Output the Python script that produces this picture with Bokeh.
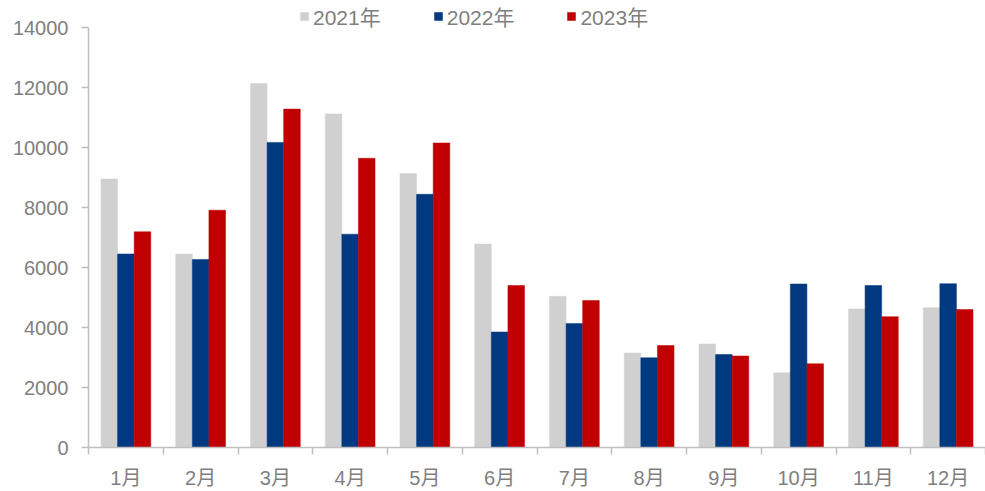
from bokeh.plotting import figure
from bokeh.models import Range1d, FixedTicker, Legend, LegendItem, ColumnDataSource
from bokeh.embed import file_html
from bokeh.resources import INLINE

months = ["1月", "2月", "3月", "4月", "5月", "6月", "7月", "8月", "9月", "10月", "11月", "12月"]
y2021 = [8950, 6450, 12130, 11120, 9130, 6780, 5040, 3150, 3450, 2490, 4620, 4660]
y2022 = [6450, 6270, 10170, 7110, 8440, 3850, 4130, 2990, 3100, 5450, 5400, 5460]
y2023 = [7190, 7910, 11280, 9640, 10150, 5400, 4900, 3400, 3050, 2790, 4360, 4600]
series_names = ["2021年", "2022年", "2023年"]
colors = ["#d0d0d0", "#00397f", "#c00000"]
y_ticks = [0, 2000, 4000, 6000, 8000, 10000, 12000, 14000]

FONT = "Liberation Sans, Noto Sans CJK SC, sans-serif"
TXT = "#7f7f7f"
AX = "#bfbfbf"

# frame runs from the top of the page; the axis itself stops at 14000
p = figure(width=985, height=491, output_backend="svg", toolbar_location=None,
           x_range=Range1d(0, len(months)), y_range=Range1d(0, 14900),
           min_border_left=88, min_border_right=0, min_border_top=0, min_border_bottom=44)
p.outline_line_color = None
p.xgrid.visible = False
p.ygrid.visible = False

bw = 0.222
offsets = [-bw, 0.0, bw]
renderers = []
for vals, off, c in zip([y2021, y2022, y2023], offsets, colors):
    src = ColumnDataSource(dict(x=[i + 0.5 + off for i in range(len(months))], top=vals))
    r = p.vbar(x="x", top="top", width=bw, source=src, fill_color=c, line_color=c, line_width=0.5)
    renderers.append(r)

# x axis: labels at category centres, ticks at boundaries
xa = p.xaxis[0]
xa.ticker = FixedTicker(ticks=[i + 0.5 for i in range(len(months))],
                        minor_ticks=list(range(len(months) + 1)))
xa.major_label_overrides = {i + 0.5: m for i, m in enumerate(months)}
xa.major_tick_out = 0
xa.major_tick_in = 0
xa.minor_tick_out = 7
xa.minor_tick_in = 0
xa.minor_tick_line_color = AX
xa.axis_line_color = AX
xa.axis_line_width = 1.5
xa.minor_tick_line_width = 1.5
xa.major_label_text_font = FONT
xa.major_label_text_font_size = "20px"
xa.major_label_text_color = TXT
xa.major_label_standoff = 12

ya = p.yaxis[0]
ya.ticker = FixedTicker(ticks=y_ticks)
ya.bounds = (y_ticks[0], y_ticks[-1])
ya.major_tick_out = 7
ya.major_tick_in = 0
ya.minor_tick_line_color = None
ya.major_tick_line_color = AX
ya.axis_line_color = AX
ya.axis_line_width = 1.5
ya.major_tick_line_width = 1.5
ya.major_label_text_font = FONT
ya.major_label_text_font_size = "20px"
ya.major_label_text_color = TXT
ya.major_label_standoff = 13

legend = Legend(items=[LegendItem(label=n, renderers=[r]) for n, r in zip(series_names, renderers)],
                orientation="horizontal", location=(211, 416),
                glyph_width=10, glyph_height=10, label_standoff=4, spacing=52,
                padding=0, margin=0, border_line_color=None, background_fill_alpha=0,
                label_text_font=FONT, label_text_font_size="21px", label_text_color=TXT)
p.add_layout(legend, "center")

open("out.html", "w").write(file_html(p, INLINE))
